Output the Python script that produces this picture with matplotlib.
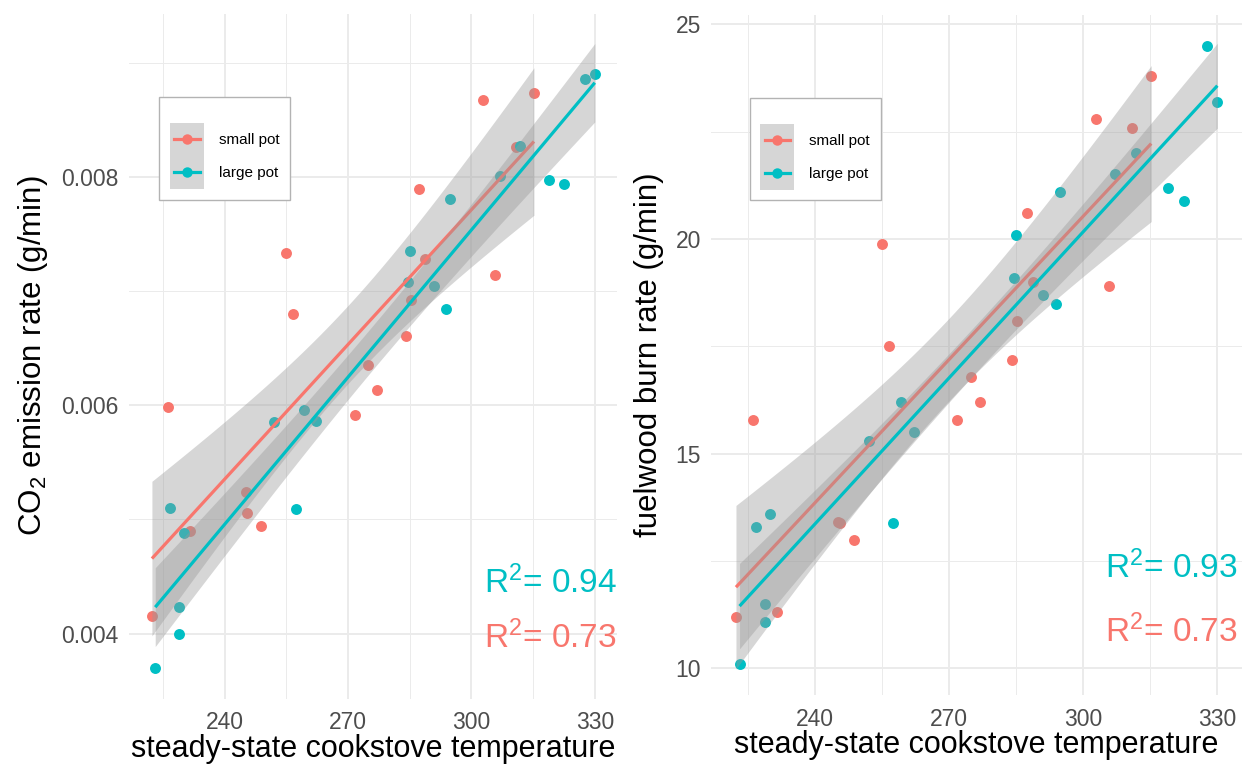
import numpy as np
import matplotlib.pyplot as plt
from matplotlib.lines import Line2D
from matplotlib.patches import Rectangle
from matplotlib.legend_handler import HandlerBase

plt.rcParams['font.family'] = ['Liberation Sans', 'DejaVu Sans']
plt.rcParams['mathtext.fontset'] = 'custom'
plt.rcParams['mathtext.rm'] = 'Liberation Sans'
plt.rcParams['mathtext.it'] = 'Liberation Sans:italic'

# small pot: temperature, CO2 emission rate, fuelwood burn rate
small_temp = [315.2, 310.8, 305.7, 302.9, 288.7, 287.3, 285.2, 284.0, 277.0, 274.9,
              271.8, 256.6, 255.0, 248.8, 245.5, 245.2, 231.5, 226.1, 222.3]
small_co2 = [0.00873, 0.00826, 0.00714, 0.00867, 0.00728, 0.00789, 0.00692, 0.00661, 0.00613, 0.00635,
             0.00591, 0.00680, 0.00733, 0.00494, 0.00506, 0.00524, 0.00490, 0.00598, 0.00415]
small_fuel = [23.79, 22.59, 18.90, 22.80, 19.00, 20.60, 18.10, 17.19, 16.20, 16.79,
              15.79, 17.51, 19.89, 12.99, 13.39, 13.40, 11.30, 15.79, 11.19]

# large pot
large_temp = [330.0, 327.6, 322.5, 318.9, 311.9, 307.0, 294.7, 293.8, 290.9, 285.0,
              284.5, 262.1, 259.3, 257.4, 252.1, 230.0, 228.9, 228.9, 226.7, 223.1]
large_co2 = [0.00890, 0.00886, 0.00794, 0.00797, 0.00827, 0.00801, 0.00781, 0.00684, 0.00704, 0.00735,
             0.00708, 0.00586, 0.00596, 0.00509, 0.00585, 0.00488, 0.00423, 0.00400, 0.00510, 0.00370]
large_fuel = [23.19, 24.50, 20.89, 21.19, 22.00, 21.51, 21.09, 18.49, 18.70, 20.09,
              19.10, 15.50, 16.20, 13.39, 15.30, 13.59, 11.49, 11.09, 13.29, 10.09]

groups = ['small pot', 'large pot']
colors = ['#F8766D', '#00BFC4']

co2_r2 = ['0.73', '0.94']
fuel_r2 = ['0.73', '0.93']

x_ticks = [240, 270, 300, 330]
x_minor = [225, 255, 285, 315]
co2_ticks = [0.004, 0.006, 0.008]
co2_minor = [0.005, 0.007, 0.009]
fuel_ticks = [10, 15, 20, 25]
fuel_minor = [12.5, 17.5, 22.5]

# 97.5% t quantiles for the 95% confidence band
T_CRIT = {17: 2.110, 18: 2.101}


def smooth(ax, x, y, color):
    x = np.asarray(x)
    y = np.asarray(y)
    n = len(x)
    b, a = np.polyfit(x, y, 1)
    xs = np.linspace(x.min(), x.max(), 100)
    fit = a + b * xs
    s = np.sqrt(np.sum((y - (a + b * x)) ** 2) / (n - 2))
    se = s * np.sqrt(1 / n + (xs - x.mean()) ** 2 / np.sum((x - x.mean()) ** 2))
    t = T_CRIT[n - 2]
    ax.fill_between(xs, fit - t * se, fit + t * se, color='#999999', alpha=0.4, lw=0, zorder=3)
    ax.plot(xs, fit, color=color, lw=2.3, zorder=3, solid_capstyle='butt')


class KeyHandler(HandlerBase):
    # ggplot-like key: grey ribbon square with line and point on it
    def create_artists(self, legend, orig_handle, xdescent, ydescent,
                       width, height, fontsize, trans):
        x0, y0 = -xdescent, -ydescent
        yc = y0 + height / 2
        rect = Rectangle((x0, y0), width, height, facecolor='#999999', alpha=0.4,
                         edgecolor='none', transform=trans)
        line = Line2D([x0 + 0.12 * width, x0 + 0.88 * width], [yc, yc],
                      color=orig_handle, lw=2.3, transform=trans)
        dot = Line2D([x0 + width / 2], [yc], color=orig_handle, marker='o',
                     markersize=7.5, markeredgewidth=0, transform=trans)
        return [rect, line, dot]


fig = plt.figure(figsize=(12.42, 7.66), dpi=100)
ax1 = fig.add_axes([128.5 / 1242, 1 - 698.7 / 766, 488.5 / 1242, 685.2 / 766])
ax2 = fig.add_axes([710.5 / 1242, 1 - 695 / 766, 531 / 1242, 680 / 766])

panels = [
    (ax1, [small_co2, large_co2], co2_r2, co2_ticks, co2_minor,
     ['0.004', '0.006', '0.008'], (0.00343, 0.00943), 'CO$_{\\mathrm{2}}$ emission rate (g/min)',
     1.0, (0.1547, 0.0736), (0.063, 0.878)),
    (ax2, [small_fuel, large_fuel], fuel_r2, fuel_ticks, fuel_minor,
     ['10', '15', '20', '25'], (9.378, 25.218), 'fuelwood burn rate (g/min)',
     0.992, (0.1716, 0.0784), (0.074, 0.878)),
]
temps = [small_temp, large_temp]

for ax, ys, r2, yt, ym, ylabels, ylim, ylab, tx, ty, lpos in panels:
    for t, y, c in zip(temps, ys, colors):
        ax.scatter(t, y, s=62, color=c, linewidths=0, zorder=2)
    for t, y, c in zip(temps, ys, colors):
        smooth(ax, t, y, c)

    ax.set_xlim(216.6, 335.4)
    ax.set_ylim(*ylim)
    ax.set_xticks(x_ticks)
    ax.set_xticks(x_minor, minor=True)
    ax.set_yticks(yt)
    ax.set_yticklabels(ylabels)
    ax.set_yticks(ym, minor=True)
    ax.grid(which='major', color='#EBEBEB', lw=1.4)
    ax.grid(which='minor', color='#EBEBEB', lw=0.7)
    ax.set_axisbelow(True)
    for sp in ax.spines.values():
        sp.set_visible(False)
    ax.tick_params(which='both', length=0)
    ax.tick_params(axis='x', labelsize=16.5, labelcolor='#4D4D4D', pad=9)
    ax.tick_params(axis='y', labelsize=16.5, labelcolor='#4D4D4D', pad=7)
    ax.set_xlabel('steady-state cookstove temperature', fontsize=22, labelpad=0)
    ax.set_ylabel(ylab, fontsize=22.5, labelpad=8)

    # R squared labels, large pot above small pot
    ax.text(tx, ty[0], 'R$^{\\mathrm{2}}$= ' + r2[1], transform=ax.transAxes,
            ha='right', va='baseline', fontsize=24, color=colors[1])
    ax.text(tx, ty[1], 'R$^{\\mathrm{2}}$= ' + r2[0], transform=ax.transAxes,
            ha='right', va='baseline', fontsize=24, color=colors[0])

    leg = ax.legend(colors, groups, handler_map={str: KeyHandler()},
                    loc='upper left', bbox_to_anchor=lpos,
                    fontsize=11, handlelength=2.2, handleheight=2.95,
                    labelspacing=0, handletextpad=1.0, borderpad=0.7, borderaxespad=0,
                    title=' ', title_fontsize=11.5, fancybox=False, framealpha=1,
                    edgecolor='#B3B3B3')
    leg.get_frame().set_linewidth(1.0)
    leg.set_zorder(5)

fig.savefig('out.png', dpi=100)
